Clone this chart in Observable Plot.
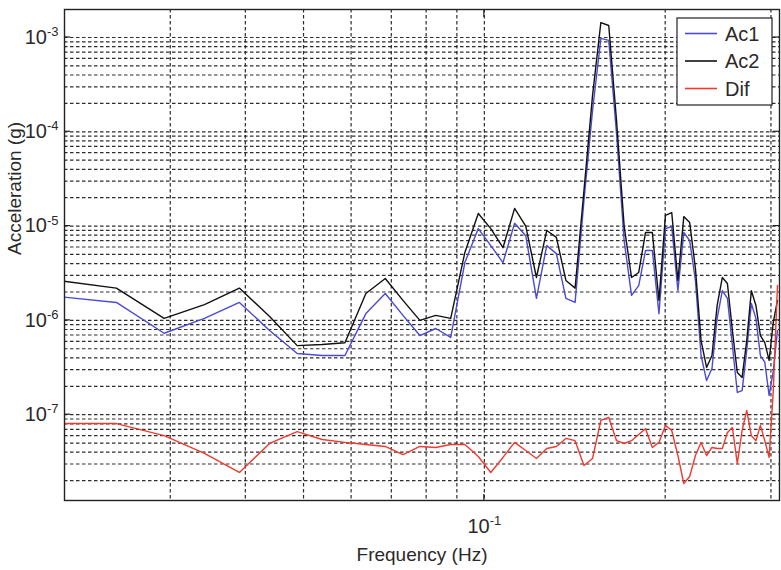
<!DOCTYPE html>
<html><head><meta charset="utf-8">
<script src="https://cdn.jsdelivr.net/npm/d3@7"></script>
<script src="https://cdn.jsdelivr.net/npm/@observablehq/plot@0.6"></script>
<style>html,body{margin:0;padding:0;background:#fff;}</style>
</head><body><div id="chart"></div>
<script>
const freq = [0.0195,0.0244,0.0293,0.0342,0.0391,0.0439,0.0488,0.0537,0.0586,0.0635,0.0684,0.0732,0.0781,0.0830,0.0879,0.0928,0.0977,0.1025,0.1074,0.1123,0.1172,0.1221,0.1270,0.1318,0.1367,0.1416,0.1465,0.1514,0.1563,0.1611,0.1660,0.1709,0.1758,0.1807,0.1855,0.1904,0.1953,0.2002,0.2051,0.2100,0.2148,0.2197,0.2246,0.2295,0.2344,0.2393,0.2441,0.2490,0.2539,0.2588,0.2637,0.2686,0.2734,0.2783,0.2832,0.2881,0.2930,0.2979,0.3027,0.3076];
const ac1 = [1.79e-6,1.55e-6,7.3e-7,1.05e-6,1.55e-6,7.8e-7,4.45e-7,4.24e-7,4.24e-7,1.18e-6,1.93e-6,1.13e-6,6.9e-7,8.2e-7,6.6e-7,4.1e-6,9.4e-6,6.2e-6,4.1e-6,1.07e-5,7.9e-6,1.71e-6,6.2e-6,5.1e-6,1.71e-6,1.55e-6,1.87e-5,1.68e-4,9.8e-4,9.3e-4,9.5e-5,7.0e-6,1.84e-6,2.34e-6,5.5e-6,5.5e-6,1.18e-6,9.4e-6,9.9e-6,2.07e-6,8.55e-6,7.0e-6,2.65e-6,4.24e-7,2.3e-7,3.09e-7,1.05e-6,2.07e-6,1.71e-6,5.42e-7,1.72e-7,1.8e-7,4.8e-7,1.51e-6,1.05e-6,4.24e-7,3.6e-7,1.6e-7,2.9e-7,7.8e-7];
const ac2 = [2.65e-6,2.2e-6,1.05e-6,1.47e-6,2.2e-6,1.1e-6,5.4e-7,5.55e-7,5.8e-7,1.93e-6,2.78e-6,1.63e-6,1.0e-6,1.13e-6,1.05e-6,5.25e-6,1.36e-5,9.4e-6,5.9e-6,1.54e-5,1.0e-5,2.85e-6,8.97e-6,7.6e-6,2.65e-6,2.2e-6,2.38e-5,2.43e-4,1.44e-3,1.34e-3,1.3e-4,1.0e-5,2.85e-6,3.22e-6,8.55e-6,8.55e-6,1.63e-6,1.3e-5,1.39e-5,2.65e-6,1.26e-5,1.09e-5,3.55e-6,6.1e-7,3.17e-7,4.24e-7,1.44e-6,2.85e-6,2.46e-6,7.8e-7,2.8e-7,2.48e-7,6.1e-7,2.07e-6,1.44e-6,6.9e-7,5.8e-7,3.76e-7,9.5e-7,1.63e-6];
const dif = [8.05e-8,8.05e-8,6.0e-8,3.88e-8,2.44e-8,4.95e-8,6.6e-8,5.46e-8,5.08e-8,4.83e-8,4.6e-8,3.78e-8,4.6e-8,4.49e-8,4.83e-8,4.83e-8,3.6e-8,2.44e-8,3.52e-8,5.08e-8,4.17e-8,3.43e-8,4.38e-8,4.6e-8,5.6e-8,5.3e-8,2.89e-8,3.43e-8,8.7e-8,9.35e-8,5.3e-8,4.95e-8,5.3e-8,6.17e-8,7.1e-8,4.49e-8,5.08e-8,7.7e-8,6.8e-8,3.69e-8,1.86e-8,2.21e-8,3.69e-8,5.08e-8,3.69e-8,4.49e-8,4.38e-8,4.38e-8,6.47e-8,7.3e-8,3.03e-8,6.8e-8,1.11e-7,6.0e-8,5.3e-8,7.7e-8,5.3e-8,3.52e-8,1.8e-7,2.34e-6];
const seriesNames = ["Ac1", "Ac2", "Dif"];
const seriesColors = ["#4a4ad4", "#111111", "#f03a30"];
const xTickValues = [0.1];
const yTickValues = [1e-7, 1e-6, 1e-5, 1e-4, 1e-3];
const xGridValues = [0.03, 0.04, 0.05, 0.06, 0.07, 0.08, 0.09, 0.1, 0.2, 0.3];
const xLabel = "Frequency (Hz)";
const yLabel = "Acceleration (g)";

const xDomain = [0.02, 0.31];
const yDomain = [1.23e-8, 1.98e-3];

const rows = [];
[ac1, ac2, dif].forEach((vals, s) => vals.forEach((v, i) => rows.push({series: seriesNames[s], f: freq[i], v})));

const yGridValues = [];
for (let e = -8; e <= -3; e++) for (let m = 1; m <= 9; m++) {
  const v = m * Math.pow(10, e);
  if (v >= yDomain[0] && v <= yDomain[1]) yGridValues.push(v);
}

const FONT = "'Liberation Sans',Arial,sans-serif";
const supFmt = v => "10^" + Math.round(Math.log10(v));
const gridStyle = {stroke: "#222", strokeOpacity: 0.95, strokeWidth: 1.2, strokeDasharray: "3.5,2.5"};

const plot = Plot.plot({
  width: 781, height: 570,
  marginLeft: 64, marginRight: 2, marginTop: 9, marginBottom: 70,
  style: {fontFamily: FONT, fontSize: "19px", color: "#2a2a2a", background: "#fff", overflow: "visible"},
  x: {type: "log", domain: xDomain, label: null},
  y: {type: "log", domain: yDomain, label: null},
  color: {domain: seriesNames, range: seriesColors},
  marks: [
    Plot.gridX(xGridValues, gridStyle),
    Plot.gridY(yGridValues, gridStyle),
    Plot.line(rows, {x: "f", y: "v", z: "series", stroke: "series", strokeWidth: 1.4, clip: true}),
    Plot.frame({stroke: "#222", strokeWidth: 1.4}),
    Plot.axisX(xTickValues, {tickSize: 0, tickPadding: 18, tickFormat: supFmt, label: null, fontSize: 20}),
    Plot.axisY(yTickValues, {tickSize: 0, tickPadding: 6, tickFormat: supFmt, label: null, fontSize: 20}),
    Plot.text([xLabel], {frameAnchor: "bottom", dy: 54, fontSize: 19, lineAnchor: "middle"}),
    Plot.text([yLabel], {frameAnchor: "left", dx: -50, rotate: -90, fontSize: 19, lineAnchor: "middle"})
  ]
});

const svg = d3.select(plot);
svg.selectAll('[aria-label$="tick label"] text').each(function () {
  const t = this.textContent;
  if (!t.includes("^")) return;
  const [base, exp] = t.split("^");
  const sel = d3.select(this);
  sel.text(base);
  sel.append("tspan").attr("dy", "-0.6em").attr("font-size", "13px").text(exp);
});

// inward major ticks
const xs = plot.scale("x"), ys = plot.scale("y");
const [xl, xr] = xs.range, [yb, yt] = ys.range;
const tg = svg.append("g").attr("stroke", "#222").attr("stroke-width", 1.2);
yTickValues.forEach(v => {
  const y = ys.apply(v);
  tg.append("line").attr("x1", xl).attr("x2", xl + 6).attr("y1", y).attr("y2", y);
  tg.append("line").attr("x1", xr - 6).attr("x2", xr).attr("y1", y).attr("y2", y);
});
xTickValues.forEach(v => {
  const x = xs.apply(v);
  tg.append("line").attr("x1", x).attr("x2", x).attr("y1", yt).attr("y2", yt + 8);
  tg.append("line").attr("x1", x).attr("x2", x).attr("y1", yb - 6).attr("y2", yb);
});

// legend box (top-right, inside axes)
const lg = svg.append("g").attr("transform", "translate(677,18)");
lg.append("rect").attr("width", 95).attr("height", 87).attr("fill", "#fff").attr("stroke", "#222").attr("stroke-width", 1.2);
seriesNames.forEach((name, i) => {
  const y = 15.5 + i * 27.5;
  lg.append("line").attr("x1", 8).attr("x2", 40).attr("y1", y).attr("y2", y)
    .attr("stroke", seriesColors[i]).attr("stroke-width", 1.6);
  lg.append("text").attr("x", 48).attr("y", y).attr("dy", "0.36em")
    .attr("text-anchor", "start")
    .attr("font-family", FONT).attr("font-size", 20).attr("fill", "#2a2a2a").text(name);
});

document.getElementById("chart").appendChild(plot);
</script>
</body></html>
